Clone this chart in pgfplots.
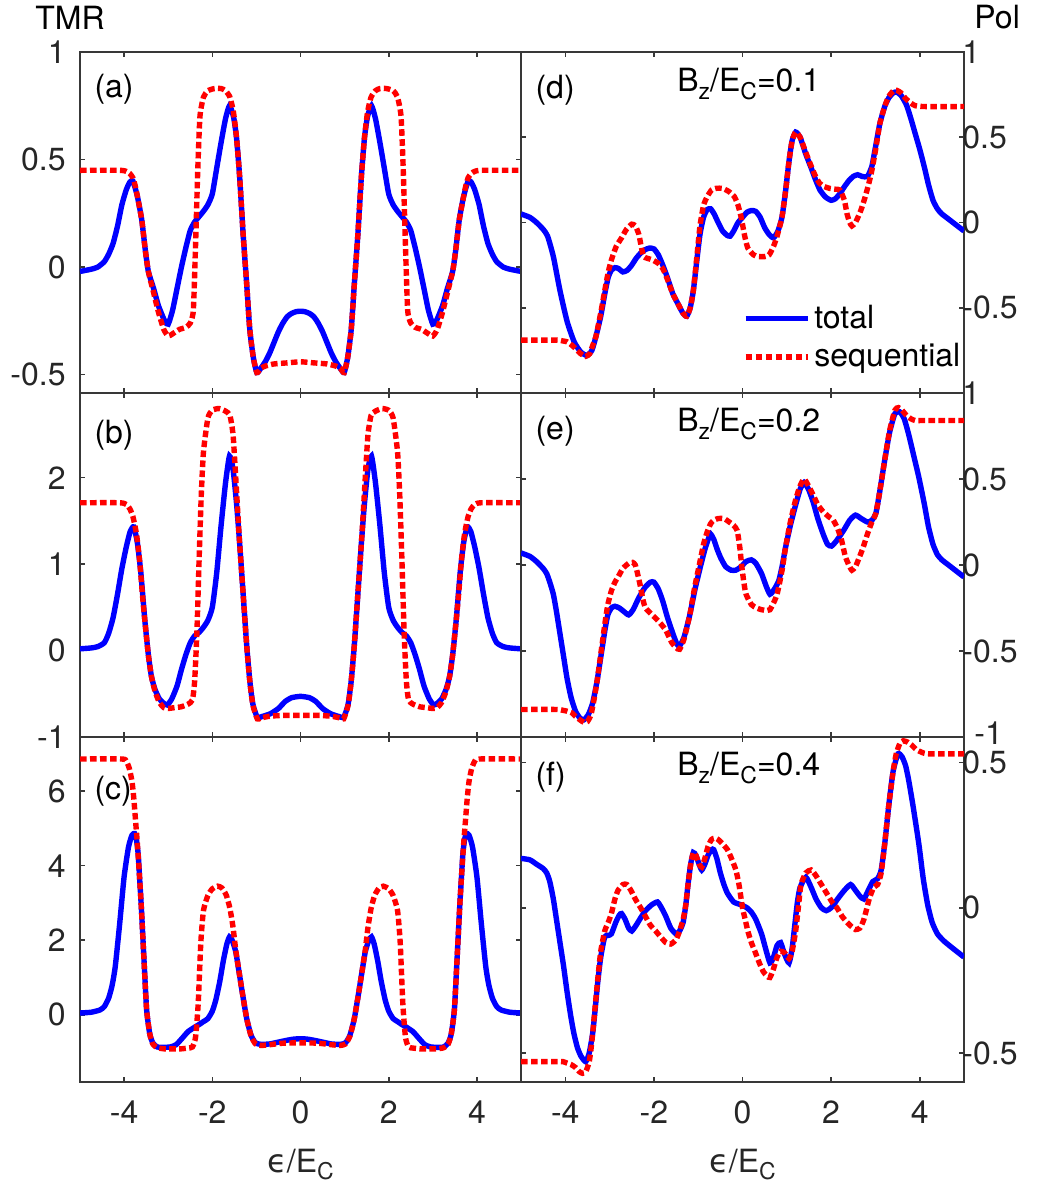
\documentclass[border=0pt]{standalone}
\usepackage{fontspec}
\setmainfont{TeX Gyre Heros}
\newfontfamily\dejavu{DejaVu Sans}
\usepackage{pgfplots}
\pgfplotsset{compat=1.18}
\definecolor{axgray}{RGB}{38,38,38}
\newcommand\sub[1]{\raisebox{-0.45ex}{\fontsize{11.5}{12}\selectfont #1}}
\newcommand\fs{\fontsize{16}{19}\selectfont}
\pgfplotsset{
  panel/.style={
    scale only axis, xmin=-5, xmax=5, xtick={-4,-2,0,2,4}, xticklabels={},
    tick align=inside, major tick length=2.6pt,
    axis line style={black!78, line width=0.8pt},
    tick style={black!78, line width=0.8pt},
    tick label style={font=\fs, text=axgray, inner sep=1pt},
    yticklabel style={xshift=-6pt},
    xticklabel style={yshift=-8.3pt},
    xlabel style={font=\fs, text=axgray, yshift=-7.8pt},
    /pgf/number format/assume math mode=true,
  },
  rpanel/.style={panel, width=221.5pt, yticklabel pos=right, yticklabel style={xshift=4pt}},
  lpanel/.style={panel, width=220.5pt},
  tot/.style={blue, line width=2.7pt, smooth, tension=0.35},
  seq/.style={red, line width=2.7pt, dash pattern=on 3.3pt off 1.7pt, smooth, tension=0.35},
}
\begin{document}
\begin{tikzpicture}
\useasboundingbox (0,0) rectangle (521.5pt,593pt);
\node[anchor=base west, font=\fs, inner sep=0pt] at (17.5pt,578pt) {TMR};
\node[anchor=base west, font=\fs, inner sep=0pt] at (487pt,578.5pt) {Pol};

% (a)
\begin{axis}[lpanel, at={(40pt,396.5pt)}, anchor=south west, height=170.5pt,
  ymin=-0.585, ymax=1, ytick={-0.5,0,0.5,1}, yticklabels={-0.5,0,0.5,1}]
\addplot[tot] coordinates {(-5,-0.02) (-4.75,-0.01) (-4.6,0.0) (-4.45,0.025) (-4.35,0.06) (-4.25,0.11) (-4.15,0.19) (-4.05,0.29) (-3.95,0.36) (-3.87,0.395) (-3.8,0.40) (-3.7,0.33) (-3.6,0.22) (-3.52,0.08) (-3.45,-0.02) (-3.33,-0.10) (-3.22,-0.18) (-3.08,-0.25) (-3.0,-0.265) (-2.9,-0.20) (-2.8,-0.10) (-2.7,0.0) (-2.6,0.09) (-2.5,0.17) (-2.4,0.21) (-2.3,0.235) (-2.2,0.26) (-2.1,0.29) (-2.0,0.34) (-1.9,0.46) (-1.8,0.58) (-1.7,0.69) (-1.61,0.75) (-1.52,0.70) (-1.45,0.60) (-1.38,0.42) (-1.3,0.15) (-1.22,-0.08) (-1.15,-0.29) (-1.07,-0.42) (-0.99,-0.49) (-0.9,-0.47) (-0.8,-0.44) (-0.7,-0.40) (-0.6,-0.35) (-0.5,-0.30) (-0.4,-0.26) (-0.3,-0.23) (-0.2,-0.215) (-0.1,-0.207) (0,-0.205)
(0.1,-0.207) (0.2,-0.215) (0.3,-0.23) (0.4,-0.26) (0.5,-0.30) (0.6,-0.35) (0.7,-0.40) (0.8,-0.44) (0.9,-0.47) (0.99,-0.49) (1.07,-0.42) (1.15,-0.29) (1.22,-0.08) (1.3,0.15) (1.38,0.42) (1.45,0.60) (1.52,0.70) (1.61,0.75) (1.7,0.69) (1.8,0.58) (1.9,0.46) (2.0,0.34) (2.1,0.29) (2.2,0.26) (2.3,0.235) (2.4,0.21) (2.5,0.17) (2.6,0.09) (2.7,0.0) (2.8,-0.10) (2.9,-0.20) (3.0,-0.265) (3.08,-0.25) (3.22,-0.18) (3.33,-0.10) (3.45,-0.02) (3.52,0.08) (3.6,0.22) (3.7,0.33) (3.8,0.40) (3.87,0.395) (3.95,0.36) (4.05,0.29) (4.15,0.19) (4.25,0.11) (4.35,0.06) (4.45,0.025) (4.6,0.0) (4.75,-0.01) (5,-0.02)};
\addplot[seq] coordinates {(-5,0.45) (-4.1,0.45) (-3.95,0.445) (-3.87,0.435) (-3.8,0.415) (-3.75,0.38) (-3.7,0.33) (-3.6,0.22) (-3.52,0.08) (-3.45,-0.02) (-3.33,-0.12) (-3.22,-0.21) (-3.1,-0.29) (-3.0,-0.32) (-2.9,-0.31) (-2.75,-0.29) (-2.6,-0.28) (-2.5,-0.26) (-2.43,-0.2) (-2.38,0.1) (-2.33,0.45) (-2.28,0.70) (-2.2,0.79) (-2.1,0.82) (-1.95,0.83) (-1.8,0.83) (-1.7,0.82) (-1.6,0.79) (-1.52,0.72) (-1.45,0.60) (-1.38,0.42) (-1.3,0.15) (-1.22,-0.08) (-1.15,-0.29) (-1.07,-0.42) (-0.99,-0.49) (-0.9,-0.47) (-0.8,-0.46) (-0.6,-0.45) (-0.3,-0.445) (0,-0.44)
(0.3,-0.445) (0.6,-0.45) (0.8,-0.46) (0.9,-0.47) (0.99,-0.49) (1.07,-0.42) (1.15,-0.29) (1.22,-0.08) (1.3,0.15) (1.38,0.42) (1.45,0.60) (1.52,0.72) (1.6,0.79) (1.7,0.82) (1.8,0.83) (1.95,0.83) (2.1,0.82) (2.2,0.79) (2.28,0.70) (2.33,0.45) (2.38,0.1) (2.43,-0.2) (2.5,-0.26) (2.6,-0.28) (2.75,-0.29) (2.9,-0.31) (3.0,-0.32) (3.1,-0.29) (3.22,-0.21) (3.33,-0.12) (3.45,-0.02) (3.52,0.08) (3.6,0.22) (3.7,0.33) (3.75,0.38) (3.8,0.415) (3.87,0.435) (3.95,0.445) (4.1,0.45) (5,0.45)};
\node[anchor=base west, font=\fs, inner sep=0pt] at (rel axis cs:0.032,0.866) {(a)};
\end{axis}

% (b)
\begin{axis}[lpanel, at={(40pt,224.5pt)}, anchor=south west, height=172pt,
  ymin=-1, ymax=2.98, ytick={-1,0,1,2}, yticklabels={-1,0,1,2}]
\addplot[tot] coordinates {(-5,0.02) (-4.75,0.03) (-4.6,0.045) (-4.45,0.09) (-4.35,0.2) (-4.25,0.38) (-4.15,0.65) (-4.05,0.95) (-3.95,1.2) (-3.86,1.38) (-3.78,1.43) (-3.7,1.25) (-3.62,0.9) (-3.53,0.35) (-3.45,-0.05) (-3.38,-0.30) (-3.3,-0.45) (-3.2,-0.56) (-3.1,-0.61) (-3.02,-0.63) (-2.92,-0.56) (-2.8,-0.41) (-2.7,-0.22) (-2.6,-0.05) (-2.5,0.09) (-2.4,0.17) (-2.3,0.21) (-2.2,0.27) (-2.1,0.35) (-2.0,0.50) (-1.9,0.90) (-1.8,1.45) (-1.7,1.94) (-1.61,2.25) (-1.53,2.10) (-1.45,1.70) (-1.38,1.24) (-1.3,0.65) (-1.22,0.06) (-1.15,-0.35) (-1.08,-0.62) (-0.98,-0.77) (-0.85,-0.76) (-0.68,-0.73) (-0.5,-0.67) (-0.35,-0.59) (-0.2,-0.545) (0,-0.53)
(0.2,-0.545) (0.35,-0.59) (0.5,-0.67) (0.68,-0.73) (0.85,-0.76) (0.98,-0.77) (1.08,-0.62) (1.15,-0.35) (1.22,0.06) (1.3,0.65) (1.38,1.24) (1.45,1.70) (1.53,2.10) (1.61,2.25) (1.7,1.94) (1.8,1.45) (1.9,0.90) (2.0,0.50) (2.1,0.35) (2.2,0.27) (2.3,0.21) (2.4,0.17) (2.5,0.09) (2.6,-0.05) (2.7,-0.22) (2.8,-0.41) (2.92,-0.56) (3.02,-0.63) (3.1,-0.61) (3.2,-0.56) (3.3,-0.45) (3.38,-0.30) (3.45,-0.05) (3.53,0.35) (3.62,0.9) (3.7,1.25) (3.78,1.43) (3.86,1.38) (3.95,1.2) (4.05,0.95) (4.15,0.65) (4.25,0.38) (4.35,0.2) (4.45,0.09) (4.6,0.045) (4.75,0.03) (5,0.02)};
\addplot[seq] coordinates {(-5,1.71) (-4.1,1.71) (-3.95,1.69) (-3.87,1.64) (-3.8,1.55) (-3.72,1.35) (-3.65,1.05) (-3.58,0.62) (-3.53,0.35) (-3.45,-0.05) (-3.38,-0.30) (-3.3,-0.47) (-3.2,-0.6) (-3.1,-0.66) (-3.0,-0.67) (-2.85,-0.66) (-2.7,-0.65) (-2.55,-0.62) (-2.45,-0.57) (-2.4,-0.35) (-2.35,0.2) (-2.3,1.04) (-2.25,1.8) (-2.2,2.3) (-2.1,2.69) (-2.0,2.78) (-1.85,2.80) (-1.7,2.77) (-1.6,2.72) (-1.53,2.5) (-1.48,2.1) (-1.44,1.75) (-1.38,1.24) (-1.3,0.65) (-1.22,0.06) (-1.15,-0.35) (-1.08,-0.63) (-0.98,-0.79) (-0.9,-0.78) (-0.7,-0.76) (-0.4,-0.75) (0,-0.75)
(0.4,-0.75) (0.7,-0.76) (0.9,-0.78) (0.98,-0.79) (1.08,-0.63) (1.15,-0.35) (1.22,0.06) (1.3,0.65) (1.38,1.24) (1.44,1.75) (1.48,2.1) (1.53,2.5) (1.6,2.72) (1.7,2.77) (1.85,2.80) (2.0,2.78) (2.1,2.69) (2.2,2.3) (2.25,1.8) (2.3,1.04) (2.35,0.2) (2.4,-0.35) (2.45,-0.57) (2.55,-0.62) (2.7,-0.65) (2.85,-0.66) (3.0,-0.67) (3.1,-0.66) (3.2,-0.6) (3.3,-0.47) (3.38,-0.30) (3.45,-0.05) (3.53,0.35) (3.58,0.62) (3.65,1.05) (3.72,1.35) (3.8,1.55) (3.87,1.64) (3.95,1.69) (4.1,1.71) (5,1.71)};
\node[anchor=base west, font=\fs, inner sep=0pt] at (rel axis cs:0.032,0.852) {(b)};
\end{axis}

% (c)
\begin{axis}[lpanel, at={(40pt,52pt)}, anchor=south west, height=172.5pt,
  ymin=-1.8, ymax=7.45, ytick={0,2,4,6}, yticklabels={0,2,4,6},
  xticklabels={-4,-2,0,2,4},
  xlabel={{\dejavu ϵ}/E\sub{C}}]
\addplot[tot] coordinates {(-5,0.05) (-4.75,0.07) (-4.55,0.13) (-4.45,0.22) (-4.35,0.45) (-4.27,0.8) (-4.2,1.3) (-4.1,2.45) (-4.0,3.7) (-3.9,4.5) (-3.82,4.82) (-3.76,4.86) (-3.72,4.7) (-3.68,4.3) (-3.65,3.7) (-3.61,2.9) (-3.55,1.5) (-3.49,0.15) (-3.42,-0.5) (-3.35,-0.75) (-3.25,-0.86) (-3.1,-0.87) (-2.95,-0.86) (-2.82,-0.8) (-2.7,-0.65) (-2.55,-0.45) (-2.4,-0.33) (-2.3,-0.26) (-2.2,-0.18) (-2.1,-0.1) (-2.0,0.1) (-1.92,0.4) (-1.83,0.9) (-1.75,1.45) (-1.67,1.9) (-1.61,2.09) (-1.55,2.0) (-1.47,1.7) (-1.4,1.2) (-1.32,0.6) (-1.22,-0.1) (-1.12,-0.55) (-1.02,-0.75) (-0.9,-0.79) (-0.7,-0.78) (-0.5,-0.73) (-0.3,-0.68) (-0.15,-0.65) (0,-0.64)
(0.15,-0.65) (0.3,-0.68) (0.5,-0.73) (0.7,-0.78) (0.9,-0.79) (1.02,-0.75) (1.12,-0.55) (1.22,-0.1) (1.32,0.6) (1.4,1.2) (1.47,1.7) (1.55,2.0) (1.61,2.09) (1.67,1.9) (1.75,1.45) (1.83,0.9) (1.92,0.4) (2.0,0.1) (2.1,-0.1) (2.2,-0.18) (2.3,-0.26) (2.4,-0.33) (2.55,-0.45) (2.7,-0.65) (2.82,-0.8) (2.95,-0.86) (3.1,-0.87) (3.25,-0.86) (3.35,-0.75) (3.42,-0.5) (3.49,0.15) (3.55,1.5) (3.61,2.9) (3.65,3.7) (3.68,4.3) (3.72,4.7) (3.76,4.86) (3.82,4.82) (3.9,4.5) (4.0,3.7) (4.1,2.45) (4.2,1.3) (4.27,0.8) (4.35,0.45) (4.45,0.22) (4.55,0.13) (4.75,0.07) (5,0.05)};
\addplot[seq] coordinates {(-5,6.86) (-4.05,6.86) (-3.95,6.8) (-3.88,6.6) (-3.82,6.25) (-3.78,5.8) (-3.74,5.2) (-3.7,4.6) (-3.65,3.7) (-3.61,2.9) (-3.55,1.5) (-3.49,0.15) (-3.42,-0.5) (-3.35,-0.78) (-3.25,-0.88) (-3.1,-0.91) (-2.9,-0.91) (-2.7,-0.91) (-2.55,-0.89) (-2.45,-0.86) (-2.38,-0.6) (-2.32,0.3) (-2.26,1.95) (-2.2,2.8) (-2.1,3.2) (-2.0,3.38) (-1.88,3.45) (-1.78,3.4) (-1.68,3.2) (-1.6,2.85) (-1.53,2.35) (-1.47,1.75) (-1.4,1.2) (-1.32,0.6) (-1.22,-0.1) (-1.12,-0.57) (-1.02,-0.78) (-0.9,-0.82) (-0.7,-0.8) (-0.4,-0.76) (0,-0.75)
(0.4,-0.76) (0.7,-0.8) (0.9,-0.82) (1.02,-0.78) (1.12,-0.57) (1.22,-0.1) (1.32,0.6) (1.4,1.2) (1.47,1.75) (1.53,2.35) (1.6,2.85) (1.68,3.2) (1.78,3.4) (1.88,3.45) (2.0,3.38) (2.1,3.2) (2.2,2.8) (2.26,1.95) (2.32,0.3) (2.38,-0.6) (2.45,-0.86) (2.55,-0.89) (2.7,-0.91) (2.9,-0.91) (3.1,-0.91) (3.25,-0.88) (3.35,-0.78) (3.42,-0.5) (3.49,0.15) (3.55,1.5) (3.61,2.9) (3.65,3.7) (3.7,4.6) (3.74,5.2) (3.78,5.8) (3.82,6.25) (3.88,6.6) (3.95,6.8) (4.05,6.86) (5,6.86)};
\node[anchor=base west, font=\fs, inner sep=0pt] at (rel axis cs:0.032,0.82) {(c)};
\end{axis}

% (d)
\begin{axis}[rpanel, at={(260.5pt,396.5pt)}, anchor=south west, height=170.5pt,
  ymin=-1, ymax=1, ytick={-1,-0.5,0,0.5,1}, yticklabels={{},-0.5,0,0.5,1},
  legend style={draw=none, fill=none, at={(0.50,0.27)}, anchor=north west, font=\fs, inner sep=0pt, row sep=2pt},
  legend cell align=left,
  legend image code/.code={\draw[#1] (0pt,0pt) -- (31pt,0pt);}]
\addplot[tot] coordinates {(-5,0.05) (-4.8,0.03) (-4.65,0.0) (-4.5,-0.04) (-4.4,-0.08) (-4.27,-0.2) (-4.12,-0.4) (-3.96,-0.58) (-3.8,-0.70) (-3.65,-0.76) (-3.51,-0.78) (-3.4,-0.75) (-3.31,-0.67) (-3.2,-0.55) (-3.11,-0.42) (-3.03,-0.32) (-2.96,-0.28) (-2.88,-0.265) (-2.8,-0.27) (-2.7,-0.29) (-2.6,-0.28) (-2.5,-0.25) (-2.4,-0.21) (-2.3,-0.18) (-2.2,-0.16) (-2.1,-0.15) (-2.0,-0.155) (-1.9,-0.19) (-1.8,-0.25) (-1.7,-0.32) (-1.57,-0.42) (-1.45,-0.48) (-1.35,-0.53) (-1.26,-0.55) (-1.18,-0.5) (-1.11,-0.4) (-1.03,-0.22) (-0.96,-0.07) (-0.88,0.03) (-0.8,0.075) (-0.72,0.08) (-0.64,0.05) (-0.55,0.0) (-0.45,-0.05) (-0.35,-0.075) (-0.28,-0.08) (-0.2,-0.05) (-0.1,0.0) (0.0,0.03) (0.1,0.06) (0.2,0.07) (0.3,0.065) (0.4,0.03) (0.5,-0.03) (0.6,-0.07) (0.7,-0.09) (0.8,-0.05) (0.89,0.03) (0.97,0.18) (1.05,0.36) (1.12,0.48) (1.2,0.53) (1.3,0.50) (1.43,0.40) (1.55,0.32) (1.65,0.25) (1.75,0.19) (1.87,0.15) (2.0,0.13) (2.1,0.14) (2.2,0.17) (2.3,0.21) (2.4,0.245) (2.5,0.27) (2.6,0.28) (2.7,0.27) (2.82,0.27) (2.92,0.33) (3.0,0.44) (3.1,0.58) (3.21,0.68) (3.3,0.73) (3.4,0.76) (3.48,0.765) (3.58,0.745) (3.7,0.69) (3.8,0.61) (3.9,0.52) (4.0,0.43) (4.1,0.33) (4.2,0.22) (4.3,0.13) (4.4,0.08) (4.5,0.05) (4.65,0.02) (4.8,-0.01) (5,-0.05)};
\addlegendentry{total}
\addplot[seq] coordinates {(-5,-0.69) (-4.2,-0.69) (-4.05,-0.695) (-3.96,-0.70) (-3.85,-0.72) (-3.77,-0.74) (-3.65,-0.77) (-3.54,-0.785) (-3.45,-0.77) (-3.38,-0.72) (-3.31,-0.67) (-3.2,-0.53) (-3.11,-0.40) (-3.03,-0.29) (-2.96,-0.22) (-2.85,-0.14) (-2.73,-0.09) (-2.62,-0.04) (-2.5,-0.01) (-2.42,-0.02) (-2.34,-0.07) (-2.28,-0.15) (-2.23,-0.2) (-2.15,-0.21) (-2.03,-0.22) (-1.9,-0.24) (-1.8,-0.27) (-1.7,-0.33) (-1.57,-0.42) (-1.45,-0.48) (-1.35,-0.53) (-1.26,-0.55) (-1.18,-0.5) (-1.11,-0.4) (-1.03,-0.2) (-0.96,-0.02) (-0.88,0.1) (-0.8,0.15) (-0.7,0.19) (-0.6,0.2) (-0.45,0.2) (-0.3,0.18) (-0.18,0.15) (-0.1,0.1) (-0.03,0.03) (0.05,-0.08) (0.12,-0.15) (0.25,-0.19) (0.35,-0.2) (0.5,-0.2) (0.6,-0.19) (0.7,-0.14) (0.78,-0.08) (0.89,0.03) (0.97,0.18) (1.05,0.36) (1.12,0.48) (1.2,0.53) (1.3,0.50) (1.43,0.41) (1.55,0.33) (1.65,0.27) (1.74,0.23) (1.85,0.21) (1.97,0.20) (2.1,0.195) (2.2,0.19) (2.3,0.13) (2.36,0.05) (2.42,0.0) (2.47,-0.02) (2.55,0.0) (2.67,0.07) (2.78,0.16) (2.9,0.28) (3.0,0.42) (3.1,0.58) (3.21,0.68) (3.3,0.74) (3.4,0.77) (3.48,0.775) (3.58,0.76) (3.67,0.73) (3.8,0.70) (3.9,0.685) (4.1,0.68) (5,0.68)};
\addlegendentry{sequential}
\node[anchor=base west, font=\fs, inner sep=0pt] at (rel axis cs:0.032,0.863) {(d)};
\node[anchor=base west, font=\fs, inner sep=0pt] at (rel axis cs:0.352,0.883) {B\sub{z}/E\sub{C}=0.1};
\end{axis}

% (e)
\begin{axis}[rpanel, name=eax, at={(260.5pt,224.5pt)}, anchor=south west, height=172pt,
  ymin=-1, ymax=1, ytick={-1,-0.5,0,0.5,1}, yticklabels={{},-0.5,0,0.5,1}]
\addplot[tot] coordinates {(-5,0.07) (-4.8,0.05) (-4.65,0.02) (-4.5,-0.02) (-4.42,-0.05) (-4.35,-0.1) (-4.27,-0.17) (-4.2,-0.27) (-4.12,-0.4) (-4.04,-0.53) (-3.96,-0.66) (-3.87,-0.77) (-3.77,-0.85) (-3.67,-0.89) (-3.58,-0.9) (-3.48,-0.87) (-3.38,-0.8) (-3.28,-0.67) (-3.19,-0.52) (-3.1,-0.37) (-3.04,-0.29) (-2.96,-0.25) (-2.88,-0.24) (-2.78,-0.25) (-2.68,-0.27) (-2.57,-0.29) (-2.47,-0.26) (-2.34,-0.19) (-2.2,-0.13) (-2.08,-0.1) (-2.0,-0.10) (-1.9,-0.14) (-1.8,-0.21) (-1.7,-0.3) (-1.57,-0.4) (-1.48,-0.46) (-1.42,-0.47) (-1.32,-0.42) (-1.19,-0.29) (-1.08,-0.15) (-0.96,-0.02) (-0.85,0.09) (-0.76,0.16) (-0.72,0.18) (-0.65,0.15) (-0.57,0.09) (-0.49,0.04) (-0.38,-0.01) (-0.26,-0.03) (-0.15,-0.03) (-0.03,-0.01) (0.08,0.02) (0.2,0.03) (0.3,0.01) (0.43,-0.05) (0.53,-0.12) (0.62,-0.17) (0.72,-0.14) (0.82,-0.09) (0.9,0.0) (0.97,0.1) (1.08,0.23) (1.2,0.35) (1.3,0.44) (1.39,0.48) (1.49,0.44) (1.59,0.37) (1.7,0.27) (1.82,0.18) (1.92,0.12) (2.01,0.11) (2.12,0.14) (2.28,0.2) (2.42,0.26) (2.55,0.29) (2.68,0.27) (2.82,0.25) (2.92,0.26) (3.01,0.3) (3.1,0.43) (3.21,0.61) (3.32,0.77) (3.44,0.88) (3.55,0.89) (3.65,0.85) (3.75,0.76) (3.87,0.63) (3.98,0.51) (4.1,0.36) (4.2,0.22) (4.3,0.12) (4.4,0.06) (4.5,0.03) (4.65,0.0) (4.8,-0.03) (5,-0.07)};
\addplot[seq] coordinates {(-5,-0.84) (-4.2,-0.84) (-4.05,-0.845) (-3.96,-0.85) (-3.85,-0.86) (-3.77,-0.88) (-3.67,-0.9) (-3.58,-0.915) (-3.5,-0.91) (-3.42,-0.87) (-3.35,-0.78) (-3.28,-0.67) (-3.19,-0.5) (-3.1,-0.33) (-3.04,-0.23) (-2.96,-0.15) (-2.88,-0.1) (-2.81,-0.07) (-2.7,-0.02) (-2.57,0.01) (-2.48,0.015) (-2.42,0.0) (-2.36,-0.06) (-2.3,-0.13) (-2.24,-0.21) (-2.19,-0.25) (-2.08,-0.28) (-1.96,-0.31) (-1.85,-0.34) (-1.73,-0.38) (-1.6,-0.45) (-1.5,-0.48) (-1.42,-0.49) (-1.32,-0.43) (-1.19,-0.29) (-1.08,-0.13) (-0.96,0.02) (-0.88,0.12) (-0.8,0.19) (-0.72,0.24) (-0.65,0.26) (-0.55,0.27) (-0.42,0.27) (-0.3,0.25) (-0.2,0.23) (-0.12,0.2) (-0.06,0.1) (-0.02,0.0) (0.03,-0.1) (0.08,-0.17) (0.2,-0.23) (0.32,-0.25) (0.43,-0.26) (0.55,-0.265) (0.62,-0.26) (0.72,-0.21) (0.78,-0.17) (0.84,-0.1) (0.9,-0.02) (0.97,0.1) (1.08,0.25) (1.2,0.38) (1.3,0.46) (1.39,0.50) (1.49,0.46) (1.59,0.41) (1.7,0.35) (1.82,0.31) (1.95,0.28) (2.05,0.26) (2.15,0.21) (2.24,0.14) (2.32,0.05) (2.4,0.0) (2.47,-0.03) (2.55,-0.01) (2.63,0.04) (2.72,0.1) (2.82,0.18) (2.92,0.25) (3.01,0.3) (3.1,0.43) (3.21,0.61) (3.32,0.78) (3.44,0.9) (3.52,0.915) (3.6,0.9) (3.7,0.87) (3.8,0.85) (3.9,0.84) (4.1,0.84) (5,0.84)};
\node[anchor=base west, font=\fs, inner sep=0pt] at (rel axis cs:0.032,0.866) {(e)};
\node[anchor=base west, font=\fs, inner sep=0pt] at (rel axis cs:0.352,0.887) {B\sub{z}/E\sub{C}=0.2};
\end{axis}
\node[anchor=west, font=\fs, text=axgray, inner sep=0pt, xshift=5pt, yshift=2pt] at (eax.south east) {-1};

% (f)
\begin{axis}[rpanel, at={(260.5pt,52pt)}, anchor=south west, height=172.5pt,
  ymin=-0.6, ymax=0.588, ytick={-0.5,0,0.5}, yticklabels={-0.5,0,0.5},
  xticklabels={-4,-2,0,2,4},
  xlabel={{\dejavu ϵ}/E\sub{C}}]
\addplot[tot] coordinates {(-5,0.17) (-4.8,0.165) (-4.65,0.15) (-4.5,0.135) (-4.42,0.12) (-4.35,0.09) (-4.27,0.03) (-4.2,-0.04) (-4.12,-0.12) (-4.04,-0.2) (-3.96,-0.29) (-3.88,-0.37) (-3.81,-0.43) (-3.73,-0.48) (-3.65,-0.51) (-3.54,-0.53) (-3.46,-0.5) (-3.38,-0.43) (-3.32,-0.34) (-3.27,-0.26) (-3.2,-0.17) (-3.11,-0.10) (-3.03,-0.095) (-2.96,-0.09) (-2.86,-0.05) (-2.78,-0.025) (-2.73,-0.02) (-2.65,-0.04) (-2.57,-0.07) (-2.5,-0.08) (-2.4,-0.06) (-2.3,-0.035) (-2.19,-0.01) (-2.05,0.01) (-1.92,0.02) (-1.83,0.0) (-1.73,-0.03) (-1.62,-0.07) (-1.5,-0.09) (-1.42,-0.08) (-1.34,-0.05) (-1.28,0.01) (-1.23,0.08) (-1.17,0.15) (-1.11,0.19) (-1.05,0.18) (-0.98,0.15) (-0.92,0.13) (-0.85,0.15) (-0.78,0.18) (-0.7,0.2) (-0.65,0.2) (-0.58,0.17) (-0.5,0.12) (-0.42,0.08) (-0.34,0.05) (-0.2,0.02) (-0.03,0.01) (0.1,0.0) (0.2,-0.015) (0.3,-0.04) (0.43,-0.09) (0.52,-0.14) (0.62,-0.19) (0.7,-0.17) (0.78,-0.13) (0.86,-0.12) (0.95,-0.16) (1.05,-0.19) (1.12,-0.14) (1.18,-0.06) (1.24,0.02) (1.3,0.07) (1.43,0.105) (1.55,0.07) (1.66,0.03) (1.78,0.0) (1.89,-0.01) (2.0,0.0) (2.17,0.035) (2.3,0.06) (2.44,0.08) (2.55,0.06) (2.65,0.04) (2.74,0.03) (2.84,0.06) (2.94,0.09) (3.05,0.1) (3.13,0.13) (3.21,0.22) (3.3,0.35) (3.4,0.47) (3.51,0.53) (3.6,0.52) (3.68,0.49) (3.75,0.44) (3.85,0.35) (3.98,0.22) (4.08,0.1) (4.18,0.01) (4.28,-0.05) (4.4,-0.09) (4.55,-0.115) (4.75,-0.14) (5,-0.17)};
\addplot[seq] coordinates {(-5,-0.53) (-4.2,-0.53) (-4.05,-0.53) (-3.96,-0.535) (-3.87,-0.54) (-3.77,-0.55) (-3.68,-0.565) (-3.61,-0.57) (-3.54,-0.565) (-3.46,-0.53) (-3.4,-0.46) (-3.32,-0.33) (-3.27,-0.25) (-3.2,-0.15) (-3.11,-0.08) (-3.03,-0.05) (-2.96,-0.02) (-2.88,0.03) (-2.81,0.06) (-2.7,0.08) (-2.61,0.08) (-2.52,0.06) (-2.42,0.03) (-2.3,0.0) (-2.19,-0.03) (-2.08,-0.06) (-1.96,-0.08) (-1.85,-0.1) (-1.73,-0.12) (-1.62,-0.125) (-1.5,-0.11) (-1.42,-0.08) (-1.34,-0.04) (-1.28,0.01) (-1.23,0.08) (-1.17,0.15) (-1.11,0.19) (-1.05,0.18) (-0.98,0.15) (-0.92,0.14) (-0.85,0.17) (-0.78,0.21) (-0.7,0.235) (-0.62,0.24) (-0.55,0.235) (-0.45,0.22) (-0.34,0.2) (-0.25,0.17) (-0.15,0.13) (-0.08,0.08) (0.0,0.0) (0.06,-0.04) (0.12,-0.08) (0.2,-0.12) (0.28,-0.15) (0.38,-0.19) (0.47,-0.22) (0.55,-0.235) (0.62,-0.24) (0.7,-0.21) (0.78,-0.17) (0.86,-0.15) (0.95,-0.155) (1.05,-0.175) (1.12,-0.15) (1.2,-0.08) (1.26,0.0) (1.32,0.08) (1.43,0.12) (1.55,0.13) (1.66,0.11) (1.78,0.08) (1.9,0.05) (2.02,0.02) (2.13,0.0) (2.25,-0.03) (2.36,-0.05) (2.46,-0.065) (2.55,-0.075) (2.65,-0.07) (2.74,-0.04) (2.86,0.03) (2.96,0.07) (3.05,0.08) (3.13,0.12) (3.21,0.22) (3.3,0.35) (3.4,0.47) (3.47,0.53) (3.55,0.565) (3.63,0.575) (3.73,0.57) (3.82,0.56) (3.92,0.545) (4.05,0.535) (4.2,0.53) (5,0.53)};
\node[anchor=base west, font=\fs, inner sep=0pt] at (rel axis cs:0.032,0.858) {(f)};
\node[anchor=base west, font=\fs, inner sep=0pt] at (rel axis cs:0.352,0.887) {B\sub{z}/E\sub{C}=0.4};
\end{axis}
\end{tikzpicture}
\end{document}
